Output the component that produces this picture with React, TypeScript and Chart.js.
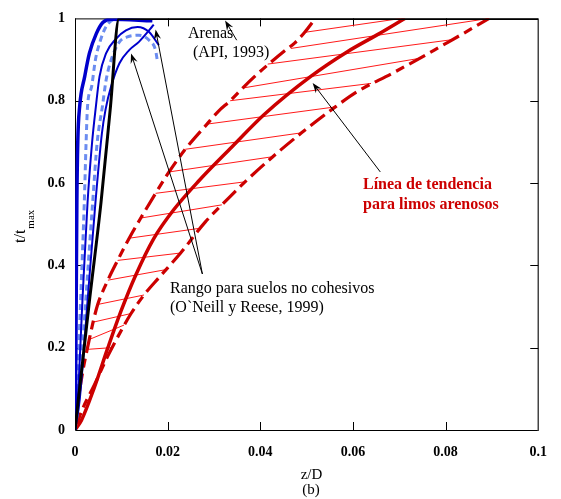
import { useEffect, useRef } from "react";
import { Chart, registerables } from "chart.js";

Chart.register(...registerables);

type Pt = [number, number];

const SERIF = "'Liberation Serif', 'Times New Roman', serif";

// Axis ticks
const xTickValues = [0, 0.02, 0.04, 0.06, 0.08, 0.1];
const xTickLabels = ["0", "0.02", "0.04", "0.06", "0.08", "0.1"];
const yTickValues = [0, 0.2, 0.4, 0.6, 0.8, 1];
const yTickLabels = ["0", "0.2", "0.4", "0.6", "0.8", "1"];

// Arenas (API, 1993)
const apiSands: Pt[] = [
  [0, 0], [0.0007, 0.072], [0.0031, 0.312], [0.0056, 0.551], [0.0076, 0.779],
  [0.0095, 1.0], [0.1, 1.0],
];

// Rango para suelos no cohesivos (O'Neill y Reese, 1999)
const cohesionlessThick: Pt[] = [
  [0, 0], [0.0001, 0.072], [0.00026, 0.312], [0.0004, 0.551], [0.0006, 0.7],
  [0.001, 0.785], [0.0021, 0.859], [0.0031, 0.915], [0.0046, 0.963], [0.006, 0.99],
  [0.0078, 0.998], [0.0167, 0.994],
];
const cohesionlessDashA: Pt[] = [
  [0, 0], [0.00036, 0.072], [0.0012, 0.312], [0.002, 0.551], [0.0024, 0.7],
  [0.0027, 0.785], [0.0036, 0.835], [0.0044, 0.899], [0.0055, 0.947], [0.0066, 0.978],
  [0.0079, 0.995], [0.0091, 0.998],
];
const cohesionlessThinA: Pt[] = [
  [0, 0], [0.00058, 0.072], [0.0016, 0.312], [0.0027, 0.551], [0.0037, 0.7],
  [0.0045, 0.785], [0.0053, 0.859], [0.0067, 0.915], [0.0089, 0.951], [0.011, 0.971],
  [0.0135, 0.979], [0.016, 0.967], [0.0181, 0.935],
];
const cohesionlessDashB: Pt[] = [
  [0, 0], [0.0008, 0.072], [0.0023, 0.312], [0.0038, 0.551], [0.0048, 0.7],
  [0.0059, 0.785], [0.0067, 0.849], [0.0078, 0.899], [0.0096, 0.943], [0.0113, 0.955],
  [0.0138, 0.959], [0.016, 0.947], [0.0174, 0.922], [0.0178, 0.895],
];
const cohesionlessThinB: Pt[] = [
  [0, 0], [0.001, 0.072], [0.0027, 0.312], [0.0044, 0.551], [0.0058, 0.72],
  [0.0066, 0.779], [0.0078, 0.835], [0.0096, 0.891], [0.0117, 0.923], [0.0138, 0.943],
  [0.0163, 0.975], [0.017, 0.985],
];

// Limos arenosos: upper bound, trend line, lower bound
const siltUpper: Pt[] = [
  [0, 0], [0.0008, 0.08], [0.0018, 0.15], [0.0028, 0.205], [0.0039, 0.262],
  [0.0049, 0.305], [0.0071, 0.364], [0.0092, 0.412], [0.0117, 0.466], [0.0142, 0.515],
  [0.0174, 0.575], [0.0203, 0.627], [0.0238, 0.682], [0.0284, 0.742], [0.031, 0.775],
  [0.0335, 0.8], [0.0363, 0.832], [0.0388, 0.859], [0.0416, 0.887], [0.0452, 0.921],
  [0.0474, 0.94], [0.0495, 0.965], [0.0519, 1.0],
];
const siltTrend: Pt[] = [
  [0, 0], [0.0014, 0.024], [0.0042, 0.104], [0.0071, 0.2], [0.0099, 0.288],
  [0.0131, 0.376], [0.017, 0.465], [0.0213, 0.535], [0.0267, 0.605], [0.0338, 0.687],
  [0.0409, 0.767], [0.0509, 0.859], [0.0588, 0.919], [0.0652, 0.96], [0.0712, 1.0],
];
const siltLower: Pt[] = [
  [0, 0], [0.0014, 0.045], [0.0042, 0.11], [0.0071, 0.18], [0.0099, 0.24],
  [0.0121, 0.283], [0.0149, 0.328], [0.0181, 0.37], [0.0228, 0.43], [0.0281, 0.505],
  [0.0331, 0.563], [0.0367, 0.603], [0.0427, 0.664], [0.0489, 0.722], [0.0562, 0.785],
  [0.0609, 0.822], [0.0684, 0.866], [0.0744, 0.903], [0.0794, 0.935], [0.083, 0.958],
  [0.0894, 1.0],
];

// Hatching between the silt bounds: start (upper bound) and end (lower bound)
const hatchStart: Pt[] = [
  [0.0495, 0.966], [0.0466, 0.927], [0.0416, 0.889], [0.0363, 0.831], [0.0335, 0.8],
  [0.0284, 0.743], [0.0238, 0.682], [0.0203, 0.627], [0.0174, 0.575], [0.0142, 0.515],
  [0.0117, 0.466], [0.0092, 0.412], [0.0071, 0.364], [0.0049, 0.305], [0.0039, 0.262],
  [0.0031, 0.22], [0.0028, 0.196],
];
const hatchEnd: Pt[] = [
  [0.0705, 1.0], [0.0894, 1.0], [0.0812, 0.948], [0.0744, 0.903], [0.0639, 0.842],
  [0.0562, 0.785], [0.0489, 0.722], [0.0427, 0.664], [0.0367, 0.603], [0.0317, 0.547],
  [0.0269, 0.49], [0.0228, 0.43], [0.0198, 0.39], [0.0149, 0.328], [0.0121, 0.283],
  [0.0106, 0.255], [0.0078, 0.2],
];

// Annotation arrows: [tail, tip]
const arrows: [Pt, Pt][] = [
  [[0.0349, 0.947], [0.0324, 0.995]],
  [[0.0275, 0.379], [0.0121, 0.915]],
  [[0.0275, 0.379], [0.0174, 0.973]],
  [[0.0659, 0.627], [0.0513, 0.843]],
];

const RED = "#cc0000";
const HATCH = "#ff1a1a";
const BLUE = "#0000cc";
const LIGHT_BLUE = "#6b8cf0";

const toXY = (pts: Pt[]) => pts.map(([x, y]) => ({ x, y }));

function hatchPoints() {
  const out: { x: number; y: number | null }[] = [];
  hatchStart.forEach((s, i) => {
    const e = hatchEnd[i];
    out.push({ x: s[0], y: s[1] }, { x: e[0], y: e[1] }, { x: e[0], y: null });
  });
  return out;
}

const line = (data: any, color: string, width: number, dash: number[] = []) => ({
  data,
  showLine: true,
  borderColor: color,
  backgroundColor: color,
  borderWidth: width,
  borderDash: dash,
  pointRadius: 0,
  pointHoverRadius: 0,
  fill: false,
  cubicInterpolationMode: "monotone" as const,
  spanGaps: false,
});

const framePlugin = {
  id: "frame",
  beforeDatasetsDraw(chart: any) {
    const { ctx, chartArea, scales } = chart;
    const { left, right, top, bottom } = chartArea;
    ctx.save();
    ctx.lineWidth = 1;
    ctx.strokeStyle = "#000";
    ctx.beginPath();
    ctx.moveTo(left + 0.5, top);
    ctx.lineTo(left + 0.5, bottom + 0.5);
    ctx.lineTo(right, bottom + 0.5);
    ctx.moveTo(left, top + 0.5);
    ctx.lineTo(right, top + 0.5);
    ctx.stroke();
    ctx.strokeStyle = "#444";
    ctx.lineWidth = 1.5;
    ctx.beginPath();
    ctx.moveTo(right, top);
    ctx.lineTo(right, bottom + 1);
    ctx.stroke();
    ctx.strokeStyle = "#000";
    ctx.lineWidth = 1;
    const len = 8;
    ctx.beginPath();
    xTickValues.slice(1, -1).forEach((v) => {
      const px = Math.round(scales.x.getPixelForValue(v)) + 0.5;
      ctx.moveTo(px, bottom);
      ctx.lineTo(px, bottom - len);
      ctx.moveTo(px, top);
      ctx.lineTo(px, top + len);
    });
    yTickValues.slice(1, -1).forEach((v) => {
      const py = Math.round(scales.y.getPixelForValue(v)) + 0.5;
      ctx.moveTo(left, py);
      ctx.lineTo(left + len, py);
      ctx.moveTo(right, py);
      ctx.lineTo(right - len, py);
    });
    ctx.stroke();
    ctx.restore();
  },
  afterDatasetsDraw(chart: any) {
    const { ctx, scales } = chart;
    const X = (v: number) => scales.x.getPixelForValue(v);
    const Y = (v: number) => scales.y.getPixelForValue(v);
    ctx.save();

    // arrows
    ctx.strokeStyle = "#000";
    ctx.fillStyle = "#000";
    ctx.lineWidth = 1;
    arrows.forEach(([tail, tip]) => {
      const x0 = X(tail[0]), y0 = Y(tail[1]);
      const x1 = X(tip[0]), y1 = Y(tip[1]);
      const ang = Math.atan2(y1 - y0, x1 - x0);
      ctx.beginPath();
      ctx.moveTo(x0, y0);
      ctx.lineTo(x1 - 6 * Math.cos(ang), y1 - 6 * Math.sin(ang));
      ctx.stroke();
      const L = 10, W = 3.6;
      const bx = x1 - L * Math.cos(ang), by = y1 - L * Math.sin(ang);
      const nx = -Math.sin(ang), ny = Math.cos(ang);
      const mx = x1 - 0.65 * L * Math.cos(ang), my = y1 - 0.65 * L * Math.sin(ang);
      ctx.beginPath();
      ctx.moveTo(x1, y1);
      ctx.lineTo(bx + W * nx, by + W * ny);
      ctx.lineTo(mx, my);
      ctx.lineTo(bx - W * nx, by - W * ny);
      ctx.closePath();
      ctx.fill();
    });

    // annotation texts
    ctx.fillStyle = "#000";
    ctx.textBaseline = "alphabetic";
    ctx.textAlign = "left";
    ctx.font = `16px ${SERIF}`;
    ctx.fillText("Arenas", 188, 38);
    ctx.fillText("(API, 1993)", 193, 57);
    ctx.fillText("Rango para suelos no cohesivos", 170, 293);
    ctx.fillText("(O`Neill y Reese, 1999)", 170, 312);

    ctx.fillStyle = RED;
    ctx.font = `bold 16px ${SERIF}`;
    ctx.fillText("Línea de tendencia", 363, 189);
    ctx.fillText("para limos arenosos", 363, 209);

    // axis titles
    ctx.fillStyle = "#000";
    ctx.font = `15px ${SERIF}`;
    ctx.textAlign = "center";
    ctx.fillText("z/D", 311.5, 479);
    ctx.fillText("(b)", 311, 494);

    ctx.save();
    ctx.translate(25, 243);
    ctx.rotate(-Math.PI / 2);
    ctx.textAlign = "left";
    ctx.font = `16px ${SERIF}`;
    ctx.fillText("t/t", 0, 0);
    const w = ctx.measureText("t/t").width;
    ctx.font = `11px ${SERIF}`;
    ctx.fillText("max", w + 1, 9);
    ctx.restore();

    ctx.restore();
  },
};

export default function App() {
  const ref = useRef<HTMLCanvasElement | null>(null);

  useEffect(() => {
    if (!ref.current) return;
    const tickFont = { family: SERIF, size: 14, weight: "bold" as const };
    const chart = new Chart(ref.current, {
      type: "scatter",
      data: {
        datasets: [
          line(toXY(apiSands), "#000", 3),
          line(toXY(cohesionlessThick), BLUE, 3.5),
          line(toXY(cohesionlessThinA), BLUE, 2),
          line(toXY(cohesionlessThinB), BLUE, 2),
          line(toXY(cohesionlessDashA), LIGHT_BLUE, 3, [6, 4]),
          line(toXY(cohesionlessDashB), LIGHT_BLUE, 3, [6, 4]),
          line(toXY(siltTrend), RED, 3.5),
          line(toXY(siltUpper), RED, 3.2, [18, 6, 9, 6]),
          line(toXY(siltLower), RED, 3.2, [18, 6, 9, 6]),
          { ...line(hatchPoints(), HATCH, 1), cubicInterpolationMode: "default" as const, tension: 0 },
        ] as any,
      },
      options: {
        responsive: false,
        animation: false,
        devicePixelRatio: 1,
        layout: { padding: { left: 0, top: 13, right: 18, bottom: 0 } },
        plugins: { legend: { display: false }, tooltip: { enabled: false } },
        scales: {
          x: {
            type: "linear",
            min: 0,
            max: 0.1,
            grid: { display: false, drawTicks: false },
            border: { display: false },
            afterBuildTicks: (s: any) => {
              s.ticks = xTickValues.map((value) => ({ value }));
            },
            afterFit: (s: any) => {
              s.height = 69;
            },
            ticks: {
              autoSkip: false,
              maxRotation: 0,
              padding: 14,
              color: "#000",
              font: tickFont,
              callback: (_v: any, i: number) => xTickLabels[i],
            },
          },
          y: {
            type: "linear",
            min: 0,
            max: 1,
            grid: { display: false, drawTicks: false },
            border: { display: false },
            afterBuildTicks: (s: any) => {
              s.ticks = yTickValues.map((value) => ({ value }));
            },
            afterFit: (s: any) => {
              s.width = 75;
            },
            ticks: {
              autoSkip: false,
              padding: 10,
              color: "#000",
              font: tickFont,
              callback: (_v: any, i: number) => yTickLabels[i],
            },
          },
        },
      },
      plugins: [framePlugin],
    });
    return () => chart.destroy();
  }, []);

  return (
    <div style={{ position: "fixed", left: 0, top: 0, width: 561, height: 499, background: "#fff" }}>
      <canvas ref={ref} width={561} height={499} style={{ display: "block" }} />
    </div>
  );
}
